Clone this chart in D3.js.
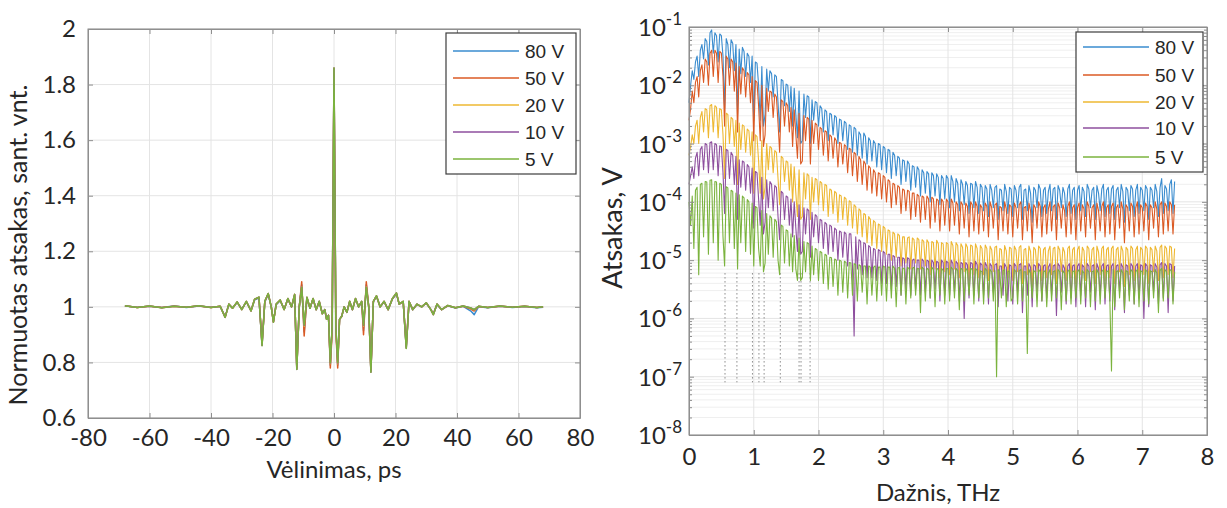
<!DOCTYPE html>
<html>
<head>
  <meta charset="utf-8">
  <title>Normuotas atsakas ir spektras</title>
  <style>
    body{ margin: 0; background: #fff; }
    svg{ display: block; }
  </style>
  <script src="https://cdn.jsdelivr.net/npm/d3@7"></script>
</head>
<body>
  <div id="chart"></div>
  <script>
    //*******DATA*******
    const voltages = ["80 V", "50 V", "20 V", "10 V", "5 V"];
    const lineColors = ["#3a8ccf", "#db5a24", "#eeb832", "#8e4f9e", "#7bb33e"];

    // left panel: delay, ps
    const delay = [-68,-64,-60,-56,-52,-48,-44,-40,
      -37,-35.4,-34.2,-33,-31.5,-30,-28.5,-27,
      -25.8,-24.4,-23.4,-22.5,-21.4,-20.4,-19.7,-18.8,
      -17.5,-16.2,-15,-13.8,-12.8,-12.1,-11.3,-10.5,
      -9.7,-8.8,-7.8,-6.8,-5.8,-4.8,-3.8,-3,
      -2.4,-1.8,-1.2,-0.6,0,0.6,1.2,1.8,
      2.5,3.3,4.2,5.1,6,7,8,9,
      9.6,10.5,11.3,12,12.8,13.8,15,16.3,
      17.6,19,20.3,21.2,22.5,23.5,24.4,25.6,
      27,28.5,30,31.5,32.3,33.5,35,37,
      39.5,42,44.5,45.6,47,50,54,58,
      62,66,68];

    // normalised response for each bias voltage
    const resp80 = [1.003,0.999,1.002,0.998,1.003,0.998,1.003,0.999,
      1.001,0.965,1.008,0.996,1.016,0.992,1.018,0.987,
      1.025,1.032,0.865,1.018,1.045,1.0,0.948,1.008,
      1.022,0.992,1.028,1.0,1.042,0.78,1.0,1.08,
      0.91,1.03,0.995,1.028,0.99,1.018,0.977,0.99,
      0.955,0.97,0.79,0.925,1.85,0.925,0.79,0.955,
      0.967,1.0,0.982,1.018,0.99,1.028,1.0,1.018,
      0.915,1.08,1.0,0.77,1.018,1.038,1.0,1.018,
      0.99,1.028,1.046,1.01,1.018,0.855,1.018,0.99,
      1.008,1.0,1.013,0.99,0.975,1.008,0.99,1.004,
      0.996,1.002,0.985,0.972,1.0,0.997,1.002,0.998,
      1.001,0.997,0.999];
    const resp50 = [1.004,0.998,1.002,0.998,1.002,0.999,1.003,0.998,
      1.002,0.963,1.009,0.995,1.017,0.991,1.019,0.986,
      1.027,1.034,0.87,1.019,1.047,1.0,0.946,1.009,
      1.024,0.991,1.029,1.0,1.044,0.78,1.0,1.09,
      0.895,1.033,0.995,1.029,0.99,1.019,0.976,0.99,
      0.955,0.97,0.78,0.91,1.84,0.91,0.78,0.955,
      0.966,1.0,0.981,1.019,0.99,1.029,1.0,1.019,
      0.9,1.09,1.0,0.77,1.019,1.039,1.0,1.019,
      0.99,1.029,1.048,1.01,1.019,0.86,1.019,0.99,
      1.009,1.0,1.014,0.99,0.974,1.009,0.99,1.004,
      0.997,1.002,0.992,0.985,1.001,0.998,1.002,0.999,
      1.002,0.998,1.0];
    const resp20 = [1.004,0.998,1.003,0.997,1.002,0.999,1.004,0.998,
      1.002,0.962,1.01,0.995,1.018,0.99,1.02,0.985,
      1.028,1.035,0.862,1.02,1.048,1.0,0.945,1.01,
      1.025,0.99,1.03,1.0,1.045,0.776,1.0,1.072,
      0.93,1.035,0.995,1.03,0.99,1.02,0.975,0.99,
      0.955,0.97,0.795,0.925,1.86,0.925,0.795,0.955,
      0.965,1.0,0.98,1.02,0.99,1.03,1.0,1.02,
      0.93,1.072,1.0,0.766,1.02,1.04,1.0,1.02,
      0.99,1.03,1.05,1.01,1.02,0.852,1.02,0.99,
      1.01,1.0,1.015,0.99,0.972,1.01,0.99,1.005,
      0.997,1.003,0.995,0.989,1.002,0.998,1.003,0.999,
      1.002,0.998,1.0];
    const resp10 = [1.004,0.998,1.003,0.997,1.002,0.999,1.004,0.998,
      1.002,0.962,1.01,0.995,1.018,0.99,1.02,0.985,
      1.028,1.035,0.861,1.02,1.048,1.0,0.945,1.01,
      1.025,0.99,1.03,1.0,1.045,0.775,1.0,1.071,
      0.933,1.035,0.995,1.03,0.99,1.02,0.975,0.99,
      0.955,0.97,0.798,0.928,1.86,0.928,0.798,0.955,
      0.965,1.0,0.98,1.02,0.99,1.03,1.0,1.02,
      0.933,1.071,1.0,0.765,1.02,1.04,1.0,1.02,
      0.99,1.03,1.05,1.01,1.02,0.851,1.02,0.99,
      1.01,1.0,1.015,0.99,0.972,1.01,0.99,1.005,
      0.997,1.003,0.996,0.99,1.002,0.998,1.003,0.999,
      1.002,0.998,1.0];
    const resp5 = [1.004,0.998,1.003,0.997,1.002,0.999,1.004,0.998,
      1.002,0.962,1.01,0.995,1.018,0.99,1.02,0.985,
      1.028,1.035,0.86,1.02,1.048,1.0,0.945,1.01,
      1.025,0.99,1.03,1.0,1.045,0.775,1.0,1.07,
      0.935,1.035,0.995,1.03,0.99,1.02,0.975,0.99,
      0.955,0.97,0.80,0.93,1.86,0.93,0.80,0.955,
      0.965,1.0,0.98,1.02,0.99,1.03,1.0,1.02,
      0.935,1.07,1.0,0.765,1.02,1.04,1.0,1.02,
      0.99,1.03,1.05,1.01,1.02,0.85,1.02,0.99,
      1.01,1.0,1.015,0.99,0.972,1.01,0.99,1.005,
      0.997,1.003,0.996,0.99,1.002,0.998,1.003,0.999,
      1.002,0.998,1.0];

    // right panel: spectra sampled every 0.025 THz from 0 to 7.5 THz, stored as log10(V)
    const freqStep = 0.025;
    const spec80 = [
      -2.3,-2.0,-1.75,-1.9,-1.6,-1.5,-1.85,-1.4,-1.3,-1.55,-1.2,-1.25,-1.65,-1.1,-1.05,-1.45,-1.1,-1.15,-1.6,-1.12,
      -1.15,-1.5,-2.4,-1.2,-1.3,-1.7,-1.22,-1.28,-1.75,-1.3,-2.5,-1.38,-1.8,-1.35,-1.42,-1.85,-1.45,-1.5,-1.95,-1.5,
      -2.6,-1.6,-1.62,-2.0,-2.6,-1.68,-2.7,-2.5,-1.72,-2.1,-1.75,-1.8,-2.2,-1.82,-1.85,-2.3,-2.8,-1.9,-1.92,-2.35,
      -1.98,-2.0,-2.45,-2.02,-2.7,-2.05,-2.5,-2.9,-2.1,-3.0,-2.95,-2.15,-2.55,-2.18,-2.2,-3.0,-2.25,-2.6,-2.28,-2.3,
      -2.7,-2.35,-2.4,-2.8,-2.42,-2.45,-2.95,-2.48,-2.5,-2.85,-2.52,-2.55,-3.0,-2.58,-2.6,-2.95,-2.62,-2.65,-3.1,-2.68,
      -2.7,-3.15,-2.72,-2.75,-3.2,-2.8,-2.85,-3.25,-2.82,-2.88,-3.35,-2.9,-2.95,-3.3,-2.95,-3.0,-3.4,-3.0,-3.02,-3.45,
      -3.05,-3.08,-3.5,-3.1,-3.12,-3.6,-3.15,-3.2,-3.55,-3.22,-3.25,-3.7,-3.28,-3.3,-3.65,-3.3,-3.35,-3.8,-3.38,-3.4,
      -3.75,-3.4,-3.45,-3.9,-3.45,-3.5,-3.85,-3.48,-3.52,-4.0,-3.5,-3.55,-3.9,-3.52,-3.58,-4.05,-3.55,-3.6,-3.95,-3.55,
      -3.6,-4.1,-3.55,-3.65,-4.0,-3.6,-3.68,-4.15,-3.62,-3.7,-4.05,-3.65,-3.72,-4.2,-3.68,-3.7,-4.1,-3.65,-3.75,-4.2,
      -3.7,-3.75,-4.15,-3.72,-3.78,-4.25,-3.7,-3.8,-4.1,-3.75,-3.72,-4.3,-3.78,-3.8,-4.15,-3.7,-3.82,-4.2,-3.75,-3.78,
      -4.25,-3.72,-3.8,-4.1,-3.75,-3.7,-4.3,-3.8,-3.78,-4.15,-3.72,-3.85,-4.35,-3.75,-3.8,-4.1,-3.7,-3.78,-4.25,-3.8,
      -3.75,-4.2,-3.82,-3.7,-4.15,-3.78,-3.75,-4.3,-3.72,-3.8,-4.1,-3.75,-3.85,-4.25,-3.78,-3.7,-4.2,-3.8,-3.75,-4.3,
      -3.8,-3.72,-4.15,-3.75,-3.82,-4.25,-3.7,-3.78,-4.1,-3.8,-3.75,-4.3,-3.72,-3.85,-4.15,-3.78,-3.7,-4.25,-3.8,-3.75,
      -4.2,-3.78,-3.72,-4.3,-3.8,-3.75,-4.1,-3.7,-3.82,-4.35,-3.75,-3.8,-4.15,-3.72,-3.78,-4.25,-3.8,-3.7,-4.2,-3.75,
      -3.8,-4.15,-3.72,-3.78,-4.3,-3.75,-3.8,-4.1,-3.7,-3.82,-4.25,-3.75,-3.6,-4.2,-3.72,-3.78,-4.15,-3.7,-3.62,-4.2,
      -3.65];
    const spec50 = [
      -2.6,-2.4,-2.1,-2.3,-1.95,-1.85,-2.2,-1.75,-1.65,-1.95,-1.55,-1.6,-2.0,-1.45,-1.4,-1.85,-1.4,-1.45,-1.95,-1.42,
      -1.45,-1.85,-2.7,-1.5,-1.55,-2.0,-1.55,-1.6,-2.1,-1.62,-2.8,-1.68,-2.15,-1.7,-1.75,-2.2,-1.78,-1.82,-2.3,-1.85,
      -2.95,-1.92,-1.95,-2.35,-2.95,-2.0,-3.05,-2.85,-2.05,-2.45,-2.1,-2.12,-2.55,-2.15,-2.2,-2.65,-3.15,-2.25,-2.28,-2.7,
      -2.3,-2.35,-2.8,-2.38,-3.05,-2.42,-2.85,-3.25,-2.48,-3.35,-3.3,-2.52,-2.95,-2.55,-2.58,-3.35,-2.6,-3.0,-2.65,-2.68,
      -3.1,-2.72,-2.75,-3.2,-2.78,-2.8,-3.3,-2.85,-2.88,-3.25,-2.9,-2.95,-3.4,-2.98,-3.0,-3.35,-3.02,-3.05,-3.5,-3.08,
      -3.1,-3.55,-3.15,-3.18,-3.65,-3.22,-3.28,-3.7,-3.3,-3.35,-3.8,-3.38,-3.42,-3.85,-3.45,-3.5,-3.9,-3.5,-3.52,-3.95,
      -3.55,-3.58,-4.0,-3.62,-3.65,-4.1,-3.68,-3.7,-4.05,-3.72,-3.75,-4.2,-3.78,-3.8,-4.15,-3.8,-3.82,-4.3,-3.85,-3.85,
      -4.25,-3.87,-3.9,-4.35,-3.9,-3.92,-4.3,-3.9,-3.95,-4.45,-3.92,-3.95,-4.35,-3.95,-3.98,-4.5,-3.95,-4.0,-4.4,-3.95,
      -4.0,-4.5,-3.95,-4.02,-4.4,-4.0,-4.05,-4.55,-4.0,-4.05,-4.45,-4.02,-4.08,-4.6,-4.0,-4.05,-4.5,-4.0,-4.08,-4.55,
      -4.05,-4.1,-4.5,-4.02,-4.08,-4.6,-4.0,-4.1,-4.45,-4.05,-4.02,-4.65,-4.08,-4.1,-4.5,-4.0,-4.12,-4.55,-4.05,-4.08,
      -4.6,-4.02,-4.1,-4.45,-4.05,-4.0,-4.65,-4.1,-4.08,-4.5,-4.02,-4.15,-4.7,-4.05,-4.1,-4.45,-4.0,-4.08,-4.6,-4.1,
      -4.05,-4.55,-4.12,-4.0,-4.5,-4.08,-4.05,-4.65,-4.02,-4.1,-4.45,-4.05,-4.15,-4.6,-4.08,-4.0,-4.55,-4.1,-4.05,-4.65,
      -4.1,-4.02,-4.5,-4.05,-4.12,-4.6,-4.0,-4.08,-4.45,-4.1,-4.05,-4.65,-4.02,-4.15,-4.5,-4.08,-4.0,-4.6,-4.1,-4.05,
      -4.55,-4.08,-4.02,-4.65,-4.1,-4.05,-4.45,-4.0,-4.12,-4.7,-4.05,-4.1,-4.5,-4.02,-4.08,-4.6,-4.1,-4.0,-4.55,-4.05,
      -4.1,-4.5,-4.02,-4.08,-4.65,-4.05,-4.1,-4.45,-4.0,-4.12,-4.6,-4.05,-4.0,-4.55,-4.02,-4.08,-4.5,-4.0,-4.05,-4.55,
      -4.05];
    const spec20 = [
      -3.2,-3.05,-2.85,-3.0,-2.7,-2.6,-3.0,-2.55,-2.45,-2.8,-2.4,-2.42,-2.9,-2.35,-2.33,-2.8,-2.35,-2.38,-2.9,-2.4,
      -2.42,-2.85,-3.6,-2.48,-2.5,-3.0,-2.55,-2.58,-3.05,-2.6,-3.7,-2.65,-3.1,-2.68,-2.7,-3.15,-2.75,-2.78,-3.2,-2.8,
      -3.85,-2.85,-2.88,-3.3,-3.85,-2.95,-3.95,-3.75,-3.0,-3.45,-3.05,-3.08,-3.5,-3.12,-3.15,-3.6,-4.05,-3.22,-3.25,-3.65,
      -3.3,-3.32,-3.8,-3.35,-4.0,-3.4,-3.85,-4.25,-3.45,-4.3,-4.25,-3.5,-3.95,-3.52,-3.55,-4.3,-3.58,-4.0,-3.6,-3.62,
      -4.05,-3.65,-3.68,-4.15,-3.7,-3.72,-4.25,-3.78,-3.8,-4.2,-3.82,-3.85,-4.35,-3.88,-3.9,-4.3,-3.92,-3.95,-4.4,-3.98,
      -4.0,-4.45,-4.05,-4.08,-4.55,-4.12,-4.15,-4.6,-4.2,-4.22,-4.7,-4.25,-4.3,-4.75,-4.32,-4.35,-4.8,-4.38,-4.4,-4.85,
      -4.42,-4.45,-4.9,-4.48,-4.5,-5.0,-4.52,-4.55,-4.95,-4.55,-4.58,-5.1,-4.6,-4.6,-5.05,-4.62,-4.6,-5.15,-4.62,-4.65,
      -5.05,-4.62,-4.65,-5.15,-4.65,-4.68,-5.1,-4.65,-4.7,-5.25,-4.68,-4.7,-5.15,-4.66,-4.72,-5.3,-4.7,-4.72,-5.2,-4.7,
      -4.72,-5.25,-4.68,-4.75,-5.15,-4.7,-4.75,-5.3,-4.72,-4.78,-5.2,-4.72,-4.78,-5.35,-4.74,-4.76,-5.25,-4.72,-4.8,-5.3,
      -4.75,-4.8,-5.25,-4.74,-4.8,-5.35,-4.76,-4.82,-5.2,-4.78,-4.76,-5.4,-4.8,-4.82,-5.25,-4.75,-4.84,-5.3,-4.78,-4.8,
      -5.35,-4.76,-4.82,-5.2,-4.78,-4.75,-5.4,-4.82,-4.8,-5.25,-4.76,-4.85,-5.45,-4.78,-4.82,-5.2,-4.76,-4.8,-5.35,-4.82,
      -4.78,-5.3,-4.84,-4.76,-5.25,-4.8,-4.78,-5.4,-4.76,-4.82,-5.2,-4.78,-4.86,-5.35,-4.8,-4.76,-5.3,-4.82,-4.78,-5.4,
      -4.82,-4.76,-5.25,-4.78,-4.84,-5.35,-4.76,-4.8,-5.2,-4.82,-4.78,-5.4,-4.76,-4.86,-5.25,-4.8,-4.76,-5.35,-4.82,-4.78,
      -5.3,-4.8,-4.76,-5.4,-4.82,-4.78,-5.2,-4.76,-4.84,-5.45,-4.78,-4.82,-5.25,-4.76,-4.8,-5.35,-4.82,-4.76,-5.3,-4.78,
      -4.82,-5.25,-4.76,-4.8,-5.4,-4.78,-4.82,-5.2,-4.76,-4.84,-5.35,-4.78,-4.74,-5.3,-4.76,-4.8,-5.25,-4.76,-4.78,-5.3,
      -4.8];
    const spec10 = [
      -3.7,-3.55,-3.4,-3.6,-3.25,-3.15,-3.55,-3.1,-3.05,-3.45,-3.0,-3.02,-3.5,-2.98,-2.97,-3.45,-3.0,-3.02,-3.55,-3.04,
      -3.05,-3.5,-4.2,-3.1,-3.12,-3.6,-3.15,-3.2,-3.7,-3.22,-4.3,-3.28,-3.75,-3.3,-3.32,-3.8,-3.36,-3.4,-3.85,-3.42,
      -4.45,-3.48,-3.5,-3.95,-4.4,-3.58,-4.55,-4.35,-3.62,-4.1,-3.65,-3.7,-4.15,-3.72,-3.75,-4.25,-4.65,-3.82,-3.85,-4.3,
      -3.9,-3.92,-4.4,-3.95,-4.6,-4.0,-4.45,-4.85,-4.05,-4.9,-4.85,-4.1,-4.55,-4.12,-4.15,-4.95,-4.18,-4.6,-4.22,-4.25,
      -4.7,-4.3,-4.32,-4.8,-4.35,-4.38,-4.9,-4.4,-4.42,-4.85,-4.45,-4.48,-5.0,-4.5,-4.52,-4.95,-4.52,-4.55,-5.1,-4.55,
      -4.55,-5.1,-6.3,-4.6,-5.15,-4.65,-4.68,-5.25,-4.7,-4.72,-5.3,-4.75,-4.78,-5.3,-4.8,-4.82,-5.35,-4.82,-4.84,-5.4,
      -4.85,-4.88,-5.4,-4.9,-4.9,-5.5,-4.92,-4.94,-5.45,-4.95,-4.95,-5.6,-4.96,-4.98,-5.5,-4.96,-4.98,-5.6,-5.0,-4.98,
      -5.5,-5.0,-5.0,-5.6,-4.98,-5.02,-5.55,-5.0,-5.02,-5.65,-5.0,-5.04,-5.5,-5.02,-5.04,-5.7,-5.0,-5.04,-5.6,-5.02,
      -5.04,-5.6,-5.0,-5.06,-5.55,-5.02,-5.06,-5.7,-5.04,-5.06,-6.0,-5.04,-5.08,-5.65,-5.04,-5.06,-5.6,-5.02,-5.08,-5.7,
      -5.05,-5.08,-5.6,-5.04,-5.1,-5.75,-5.06,-5.1,-5.55,-5.08,-5.06,-5.8,-5.1,-5.1,-5.6,-5.06,-5.12,-5.7,-5.08,-5.1,
      -5.75,-5.06,-5.1,-5.55,-5.08,-5.06,-5.9,-5.1,-5.1,-5.6,-5.06,-5.12,-5.8,-5.08,-5.1,-5.55,-5.06,-5.1,-5.7,-5.1,
      -5.08,-5.65,-5.12,-5.06,-5.6,-5.1,-5.08,-5.95,-5.06,-5.1,-5.55,-5.08,-5.14,-5.75,-5.1,-5.06,-5.65,-5.1,-5.08,-5.8,
      -5.1,-5.06,-5.6,-5.08,-5.12,-5.8,-5.06,-5.1,-5.55,-5.1,-5.08,-5.85,-5.06,-5.14,-5.6,-5.1,-5.06,-5.75,-5.1,-5.08,
      -5.7,-5.1,-5.06,-5.85,-5.1,-5.08,-5.55,-5.06,-5.12,-5.9,-5.08,-5.1,-5.6,-5.06,-5.1,-5.75,-5.1,-5.06,-5.65,-5.08,
      -5.1,-6.0,-5.06,-5.1,-5.8,-5.08,-5.1,-5.55,-5.06,-5.12,-5.75,-5.08,-5.04,-5.65,-5.06,-5.1,-5.9,-5.06,-5.08,-5.7,
      -5.1];
    const spec5 = [
      -4.0,-4.4,-3.9,-4.8,-3.8,-3.75,-5.25,-3.7,-3.68,-4.6,-3.65,-3.66,-4.9,-3.63,-3.62,-4.7,-3.65,-3.66,-5.0,-3.68,
      -3.7,-4.6,-5.1,-3.74,-3.76,-4.7,-3.8,-3.82,-4.8,-3.85,-5.15,-3.88,-4.7,-3.9,-3.93,-4.85,-3.96,-4.0,-4.9,-4.02,
      -5.1,-4.08,-4.1,-4.8,-5.1,-4.15,-5.2,-5.05,-4.2,-4.9,-4.24,-4.28,-4.95,-4.3,-4.34,-5.0,-5.25,-4.4,-4.42,-5.05,
      -4.48,-4.5,-5.1,-4.55,-5.2,-4.58,-5.15,-5.35,-4.62,-5.35,-5.3,-4.68,-5.2,-4.7,-4.72,-5.35,-4.76,-5.25,-4.8,-4.82,
      -5.35,-4.85,-4.87,-5.4,-4.9,-4.92,-5.5,-4.95,-4.96,-5.45,-4.98,-5.0,-5.6,-5.0,-5.02,-5.55,-5.02,-5.04,-5.65,-5.04,
      -5.05,-5.6,-5.06,-5.08,-5.7,-5.08,-5.1,-5.55,-5.1,-5.1,-5.75,-5.1,-5.12,-5.6,-5.12,-5.1,-5.7,-5.12,-5.12,-5.6,
      -5.1,-5.12,-5.7,-5.12,-5.12,-5.65,-5.1,-5.14,-5.8,-5.14,-5.12,-5.6,-5.14,-5.14,-5.75,-5.12,-5.15,-5.65,-5.14,-5.12,
      -5.6,-5.14,-5.15,-5.9,-5.12,-5.15,-5.7,-5.14,-5.16,-5.65,-5.12,-5.16,-5.8,-5.14,-5.16,-5.6,-5.14,-5.18,-5.75,-5.14,
      -5.15,-5.7,-5.12,-5.16,-5.65,-5.14,-5.18,-5.85,-5.14,-5.16,-5.7,-5.14,-5.18,-5.6,-5.14,-5.16,-5.75,-5.14,-5.18,-5.65,
      -5.18,-5.2,-5.75,-5.14,-5.18,-5.65,-5.16,-5.2,-5.7,-5.18,-7.0,-5.16,-5.2,-5.65,-5.18,-5.16,-5.8,-5.2,-5.18,-5.7,
      -5.65,-5.16,-5.2,-5.75,-5.18,-5.16,-5.7,-5.2,-5.2,-6.6,-5.16,-5.22,-5.65,-5.18,-5.2,-5.8,-5.16,-5.2,-5.7,-5.2,
      -5.18,-5.8,-5.22,-5.16,-5.7,-5.2,-5.18,-5.65,-5.16,-5.2,-5.85,-5.18,-5.22,-5.7,-5.2,-5.16,-5.75,-5.2,-5.18,-5.65,
      -5.2,-5.16,-5.75,-5.18,-5.22,-5.65,-5.16,-5.2,-5.8,-5.2,-5.18,-5.7,-5.16,-5.22,-5.75,-5.2,-5.16,-5.65,-5.2,-5.18,
      -5.7,-6.9,-5.16,-5.8,-5.2,-5.18,-5.65,-5.16,-5.22,-5.85,-5.18,-5.2,-5.7,-5.16,-5.2,-5.75,-5.2,-5.16,-5.8,-5.18,
      -5.2,-5.7,-5.16,-5.2,-5.75,-5.18,-5.2,-5.65,-5.16,-5.22,-5.9,-5.18,-5.14,-5.7,-5.16,-5.2,-5.65,-5.16,-5.18,-5.75,
      -5.2];

    // absorption lines marked with dotted stems (THz) and their span (V)
    const waterLines = [0.556, 0.74, 0.98, 1.08, 1.16, 1.41, 1.70, 1.73, 1.87];
    const waterSpan = [6e-6, 8e-8];

    // tick labels
    const delayTicks = [-80, -60, -40, -20, 0, 20, 40, 60, 80];
    const respTicks = [0.6, 0.8, 1, 1.2, 1.4, 1.6, 1.8, 2];
    const freqTicks = [0, 1, 2, 3, 4, 5, 6, 7, 8];
    const ampTicks = [1e-8, 1e-7, 1e-6, 1e-5, 1e-4, 1e-3, 1e-2, 1e-1];

    //*******CONSTANTS*******
    const width = 1227, height = 508;
    const leftBox = {x0: 88, x1: 580, y0: 29, y1: 418};
    const rightBox = {x0: 689, x1: 1207, y0: 27, y1: 435};
    const tickFont = "Lato, 'Open Sans', sans-serif";
    const legendFont = "'Liberation Sans', Arial, sans-serif";
    const frameColor = "#8f8f8f";
    const textColor = "#262626";

    var svg = d3.select("#chart")
      .append("svg")
      .attr("width", width)
      .attr("height", height);

    //*******SCALES*******
    var xL = d3.scaleLinear().domain([-80, 80]).range([leftBox.x0, leftBox.x1]);
    var yL = d3.scaleLinear().domain([0.6, 2]).range([leftBox.y1, leftBox.y0]);
    var xR = d3.scaleLinear().domain([0, 8]).range([rightBox.x0, rightBox.x1]);
    var yR = d3.scaleLog().domain([1e-8, 1e-1]).range([rightBox.y1, rightBox.y0]);

    // minor decade ticks (2..9 x 10^n)
    var ampMinor = yR.ticks().filter(function(v){
      return Math.abs(Math.log10(v) - Math.round(Math.log10(v))) > 1e-6;
    });

    // plain hyphen labels like the original figure
    function plain(d){ return String(d); }

    //*******GRID*******
    function drawGrid(box, xs, ys, xTicks, yTicks, yMinor){
      var g = svg.append("g");
      if (yMinor){
        g.selectAll(".gm").data(yMinor).enter().append("line")
          .attr("x1", box.x0).attr("x2", box.x1)
          .attr("y1", ys).attr("y2", ys)
          .attr("stroke", "#efefef");
      }
      g.selectAll(".gx").data(xTicks).enter().append("line")
        .attr("x1", xs).attr("x2", xs)
        .attr("y1", box.y0).attr("y2", box.y1)
        .attr("stroke", "#e4e4e4");
      g.selectAll(".gy").data(yTicks).enter().append("line")
        .attr("x1", box.x0).attr("x2", box.x1)
        .attr("y1", ys).attr("y2", ys)
        .attr("stroke", "#e4e4e4");
    }

    //*******AXES*******
    function styleAxis(g){
      g.attr("font-family", tickFont).attr("font-size", 24);
      g.select(".domain").attr("stroke", frameColor);
      g.selectAll(".tick line").attr("stroke", frameColor);
      g.selectAll(".tick text").attr("fill", textColor);
    }

    function drawAxes(box, xs, ys, xTicks, yTicks, yFormat, padX){
      svg.append("g")
        .attr("transform", "translate(0," + box.y1 + ")")
        .call(d3.axisBottom(xs).tickValues(xTicks).tickSize(-5).tickSizeOuter(0).tickPadding(padX).tickFormat(plain))
        .call(styleAxis);
      svg.append("g")
        .attr("transform", "translate(0," + box.y0 + ")")
        .call(d3.axisTop(xs).tickValues(xTicks).tickSize(-5).tickSizeOuter(0).tickFormat(""))
        .call(styleAxis);
      svg.append("g")
        .attr("transform", "translate(" + box.x0 + ",0)")
        .call(d3.axisLeft(ys).tickValues(yTicks).tickSize(-5).tickSizeOuter(0).tickPadding(12).tickFormat(yFormat))
        .call(styleAxis);
      svg.append("g")
        .attr("transform", "translate(" + box.x1 + ",0)")
        .call(d3.axisRight(ys).tickValues(yTicks).tickSize(-5).tickSizeOuter(0).tickFormat(""))
        .call(styleAxis);
    }

    function drawLegend(x, y, w, h, rowY){
      var g = svg.append("g").attr("transform", "translate(" + x + "," + y + ")");
      g.append("rect")
        .attr("width", w).attr("height", h)
        .attr("fill", "#fff")
        .attr("stroke", "#3c3c3c")
        .attr("stroke-width", 1.2);
      voltages.forEach(function(v, i){
        g.append("line")
          .attr("x1", 7).attr("x2", 73)
          .attr("y1", rowY[i]).attr("y2", rowY[i])
          .attr("stroke", lineColors[i])
          .attr("stroke-width", 1.5);
        g.append("text")
          .attr("x", 79).attr("y", rowY[i] + 7)
          .attr("font-family", legendFont)
          .attr("font-size", 19)
          .attr("fill", textColor)
          .text(v);
      });
    }

    //*******LEFT PANEL*******
    drawGrid(leftBox, xL, yL, delayTicks, respTicks);

    var responses = [resp80, resp50, resp20, resp10, resp5];
    var respLine = d3.line()
      .x(function(d, i){ return xL(delay[i]); })
      .y(function(d){ return yL(d); });

    responses.forEach(function(r, i){
      svg.append("path")
        .datum(r)
        .attr("d", respLine)
        .attr("fill", "none")
        .attr("stroke", lineColors[i])
        .attr("stroke-width", 1.5)
        .attr("stroke-linejoin", "round");
    });

    drawAxes(leftBox, xL, yL, delayTicks, respTicks, plain, 11);
    svg.append("rect")
      .attr("x", leftBox.x0).attr("y", leftBox.y0)
      .attr("width", leftBox.x1 - leftBox.x0).attr("height", leftBox.y1 - leftBox.y0)
      .attr("fill", "none").attr("stroke", frameColor);

    drawLegend(446, 33, 130, 141, [18, 45, 72, 99, 126]);

    svg.append("text")
      .attr("x", (leftBox.x0 + leftBox.x1) / 2)
      .attr("y", 478)
      .attr("text-anchor", "middle")
      .attr("font-family", tickFont).attr("font-size", 24)
      .attr("fill", textColor)
      .text("Vėlinimas, ps");

    svg.append("text")
      .attr("transform", "translate(27,245) rotate(-90)")
      .attr("text-anchor", "middle")
      .attr("font-family", tickFont).attr("font-size", 25)
      .attr("fill", textColor)
      .text("Normuotas atsakas, sant. vnt.");

    //*******RIGHT PANEL*******
    drawGrid(rightBox, xR, yR, freqTicks, ampTicks, ampMinor);

    // dotted absorption-line stems
    svg.selectAll(".water").data(waterLines).enter().append("line")
      .attr("x1", xR).attr("x2", xR)
      .attr("y1", yR(waterSpan[0])).attr("y2", yR(waterSpan[1]))
      .attr("stroke", "#8a8a8a")
      .attr("stroke-dasharray", "1.5,2.5");

    var spectra = [spec80, spec50, spec20, spec10, spec5];
    var specLine = d3.line()
      .x(function(d, i){ return xR(i * freqStep); })
      .y(function(d){ return yR(Math.pow(10, d)); });

    spectra.forEach(function(s, i){
      svg.append("path")
        .datum(s)
        .attr("d", specLine)
        .attr("fill", "none")
        .attr("stroke", lineColors[i])
        .attr("stroke-width", 1.1)
        .attr("stroke-linejoin", "round");
    });

    drawAxes(rightBox, xR, yR, freqTicks, ampTicks, function(){ return ""; }, 13);
    // minor ticks on both sides of the log axis
    svg.append("g")
      .attr("transform", "translate(" + rightBox.x0 + ",0)")
      .call(d3.axisLeft(yR).tickValues(ampMinor).tickSize(-3).tickSizeOuter(0).tickFormat(""))
      .call(styleAxis);
    svg.append("g")
      .attr("transform", "translate(" + rightBox.x1 + ",0)")
      .call(d3.axisRight(yR).tickValues(ampMinor).tickSize(-3).tickSizeOuter(0).tickFormat(""))
      .call(styleAxis);

    // 10^n labels
    ampTicks.forEach(function(v){
      var t = svg.append("text")
        .attr("x", rightBox.x0 - 7)
        .attr("y", yR(v) + 9)
        .attr("text-anchor", "end")
        .attr("font-family", tickFont)
        .attr("font-size", 24)
        .attr("fill", textColor);
      t.append("tspan").text("10");
      t.append("tspan")
        .attr("dy", -11)
        .attr("font-size", 17)
        .text(Math.round(Math.log10(v)));
    });

    svg.append("rect")
      .attr("x", rightBox.x0).attr("y", rightBox.y0)
      .attr("width", rightBox.x1 - rightBox.x0).attr("height", rightBox.y1 - rightBox.y0)
      .attr("fill", "none").attr("stroke", frameColor);

    drawLegend(1076, 32, 127, 140, [15, 43, 70, 96, 125]);

    svg.append("text")
      .attr("x", 938)
      .attr("y", 501)
      .attr("text-anchor", "middle")
      .attr("font-family", tickFont).attr("font-size", 24)
      .attr("fill", textColor)
      .text("Dažnis, THz");

    svg.append("text")
      .attr("transform", "translate(622,228) rotate(-90)")
      .attr("text-anchor", "middle")
      .attr("font-family", tickFont).attr("font-size", 27)
      .attr("fill", textColor)
      .text("Atsakas, V");
  </script>
</body>
</html>
